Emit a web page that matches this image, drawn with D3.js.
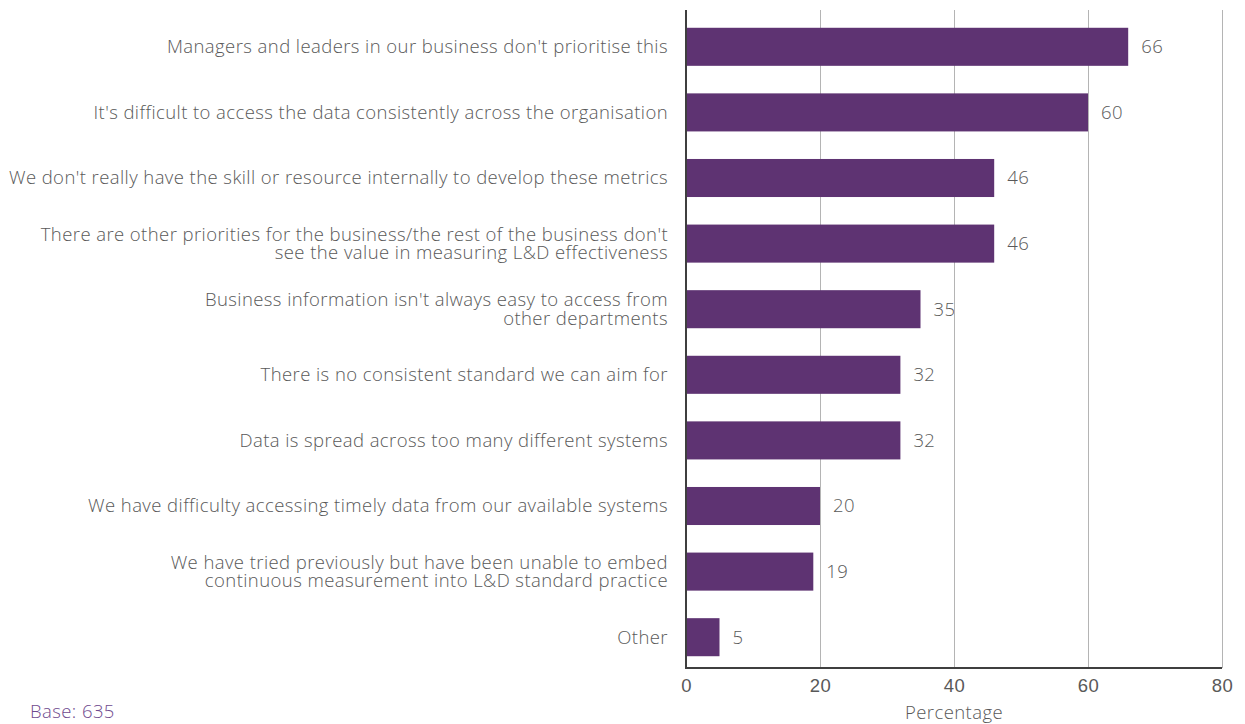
<!DOCTYPE html>
<html>
<head>
<meta charset="utf-8">
<script src="https://cdn.jsdelivr.net/npm/d3@7"></script>
<style>
  html, body { margin: 0; padding: 0; background: #ffffff; }
  svg { display: block; font-family: "Open Sans", "Noto Sans", sans-serif; font-weight: 300; letter-spacing: 0.42px; }
</style>
</head>
<body>
<svg id="chart" width="1245" height="724"></svg>
<script>
// Reasons why L&D effectiveness is hard to measure (% of respondents)
const categories = [
  ["Managers and leaders in our business don't prioritise this"],
  ["It's difficult to access the data consistently across the organisation"],
  ["We don't really have the skill or resource internally to develop these metrics"],
  ["There are other priorities for the business/the rest of the business don't", "see the value in measuring L&D effectiveness"],
  ["Business information isn't always easy to access from", "other departments"],
  ["There is no consistent standard we can aim for"],
  ["Data is spread across too many different systems"],
  ["We have difficulty accessing timely data from our available systems"],
  ["We have tried previously but have been unable to embed", "continuous measurement into L&D standard practice"],
  ["Other"]
];
const values = [66, 60, 46, 46, 35, 32, 32, 20, 19, 5];
const xTicks = [0, 20, 40, 60, 80];
const axisTitle = "Percentage";
const baseNote = "Base: 635";

const svg = d3.select("#chart");
const plotLeft = 686, plotRight = 1222, plotTop = 10, plotBottom = 668;
const fontSize = 18.5;

const x = d3.scaleLinear().domain([0, 80]).range([plotLeft, plotRight]);
const y = d3.scaleBand()
  .domain(d3.range(categories.length))
  .range([14, 670])
  .paddingInner(0.42)
  .paddingOuter(0.21);

const textColor = "#595959";

// value labels (sit beneath the gridlines)
svg.append("g").selectAll("text")
  .data(values)
  .join("text")
  .attr("x", d => x(d) + 13)
  .attr("y", (d, i) => y(i) + y.bandwidth() / 2)
  .attr("dy", "0.35em")
  .attr("fill", textColor)
  .attr("font-size", fontSize)
  .text(d => d);

// vertical gridlines
svg.append("g")
  .attr("transform", `translate(0,${plotBottom})`)
  .call(d3.axisBottom(x).tickValues(xTicks).tickSize(-(plotBottom - plotTop)).tickFormat(""))
  .call(g => g.select(".domain").remove())
  .call(g => g.selectAll("line").attr("stroke", "#b4b4b4").attr("stroke-width", 1));

// bars
svg.append("g").selectAll("rect")
  .data(values)
  .join("rect")
  .attr("x", x(0))
  .attr("y", (d, i) => y(i))
  .attr("width", d => x(d) - x(0))
  .attr("height", y.bandwidth())
  .attr("fill", "#5e3372");

// category labels, right-aligned against the axis
const catG = svg.append("g");
categories.forEach((lines, i) => {
  const cy = y(i) + y.bandwidth() / 2;
  const lh = 18.5;
  const t = catG.append("text")
    .attr("text-anchor", "end")
    .attr("fill", textColor)
    .attr("font-size", fontSize);
  lines.forEach((ln, j) => {
    t.append("tspan")
      .attr("x", plotLeft - 18)
      .attr("y", cy + (j - (lines.length - 1) / 2) * lh)
      .attr("dy", "0.35em")
      .text(ln);
  });
});

// x axis with tick labels
const xAxis = svg.append("g")
  .attr("transform", `translate(0,${plotBottom})`)
  .call(d3.axisBottom(x).tickValues(xTicks).tickSize(0).tickPadding(11).tickFormat(d3.format("d")));
xAxis.select(".domain").remove();
xAxis.selectAll("text").attr("fill", textColor).attr("font-size", fontSize).attr("font-family", "inherit");

// axis lines
svg.append("line")
  .attr("x1", plotLeft).attr("x2", plotLeft)
  .attr("y1", plotTop).attr("y2", plotBottom + 1)
  .attr("stroke", "#3f3f3f").attr("stroke-width", 2);
svg.append("line")
  .attr("x1", plotLeft - 1).attr("x2", plotRight)
  .attr("y1", plotBottom).attr("y2", plotBottom)
  .attr("stroke", "#3f3f3f").attr("stroke-width", 2);

// axis title
svg.append("text")
  .attr("x", (plotLeft + plotRight) / 2)
  .attr("y", 713)
  .attr("dy", "0.35em")
  .attr("text-anchor", "middle")
  .attr("fill", textColor)
  .attr("font-size", fontSize)
  .text(axisTitle);

// base note
svg.append("text")
  .attr("x", 30)
  .attr("y", 712)
  .attr("dy", "0.35em")
  .attr("fill", "#6f4a8e")
  .attr("font-size", fontSize)
  .text(baseNote);
</script>
</body>
</html>
